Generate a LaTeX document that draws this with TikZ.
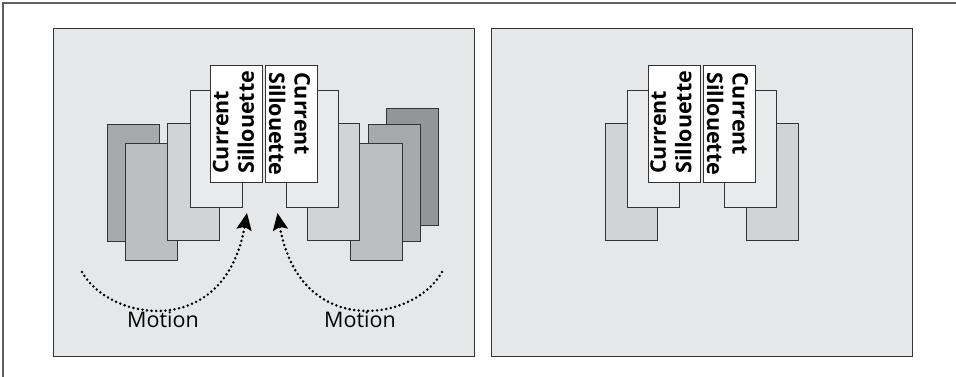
\documentclass[tikz,border=0pt]{standalone}
\usepackage{fontspec}
\setsansfont{Open Sans}
\usepackage{tikz}
\usetikzlibrary{arrows.meta}

\definecolor{edge}{HTML}{333333}
\definecolor{framegray}{HTML}{5F6062}
\definecolor{panelbg}{HTML}{E6E7E8}
\definecolor{lighter}{HTML}{E9EAEB}
\definecolor{light}{HTML}{D1D3D4}
\definecolor{medium}{HTML}{BCBEC0}
\definecolor{dark}{HTML}{A7A9AC}
\definecolor{darkest}{HTML}{939598}

\begin{document}
\begin{tikzpicture}[x=1pt, y=-1pt,
    panel/.style={draw=edge, line width=1.4pt, fill=panelbg, anchor=north west, inner sep=0pt, minimum width=421pt, minimum height=328pt},
    card/.style={draw=edge, line width=1.2pt, anchor=north west, inner sep=0pt, minimum width=52pt, minimum height=117pt},
    sil/.style={font=\sffamily\bfseries\fontsize{21.5}{25.5}\selectfont, align=left, inner sep=0pt, anchor=west},
    motion/.style={font=\sffamily\fontsize{21.5}{25}\selectfont, inner sep=0pt},
    arrow/.style={-{Stealth[length=17pt,width=15pt,inset=3pt]}, line width=2.8pt, dash pattern=on 0pt off 4.6pt, line cap=round}
]
\useasboundingbox (0,0) rectangle (956,377);
\draw[framegray, line width=2pt] (3,377) -- (3,3) -- (956,3);

% left panel: moving sillouettes
\node[panel] (pleft) at (53,28) {};
\node[card, fill=darkest] (rk) at (386,108) {};
\node[card, fill=dark] (ld) at (107,124) {};
\node[card, fill=dark] (rd) at (368,124) {};
\node[card, fill=medium] (lm) at (125,143) {};
\node[card, fill=medium] (rm) at (350,143) {};
\node[card, fill=light] (ll) at (167,123) {};
\node[card, fill=light] (rl) at (307,123) {};
\node[card, fill=lighter] (lx) at (190,90) {};
\node[card, fill=lighter] (rx) at (286,90) {};
\node[card, fill=white] (lw) at (210,65) {};
\node[card, fill=white] (rw) at (265,65) {};
\node[sil, rotate=90] (lwtext) at (233.5,174) {Current\\Sillouette};
\node[sil, rotate=-90] (rwtext) at (289.5,72) {Current\\Sillouette};

\coordinate (lstart) at (82,272);
\coordinate (ltip) at (247,213);
\coordinate (rstart) at (442,272);
\coordinate (rtip) at (277.5,213);
\draw[arrow] (lstart) .. controls (110,322) and (225,340) .. (ltip);
\draw[arrow] (rstart) .. controls (414.5,322) and (299.5,340) .. (rtip);
\node[motion] (lmotion) at (163,320) {Motion};
\node[motion] (rmotion) at (360,320) {Motion};

% right panel: sillouettes at rest
\node[panel] (pright) at (491,28) {};
\node[card, fill=light] (sl) at (605,123) {};
\node[card, fill=light] (sr) at (746,123) {};
\node[card, fill=lighter] (sxl) at (627,90) {};
\node[card, fill=lighter] (sxr) at (724,90) {};
\node[card, fill=white] (swl) at (648,65) {};
\node[card, fill=white] (swr) at (703,65) {};
\node[sil, rotate=90] (swltext) at (671,174) {Current\\Sillouette};
\node[sil, rotate=-90] (swrtext) at (727.5,72) {Current\\Sillouette};
\end{tikzpicture}
\end{document}
